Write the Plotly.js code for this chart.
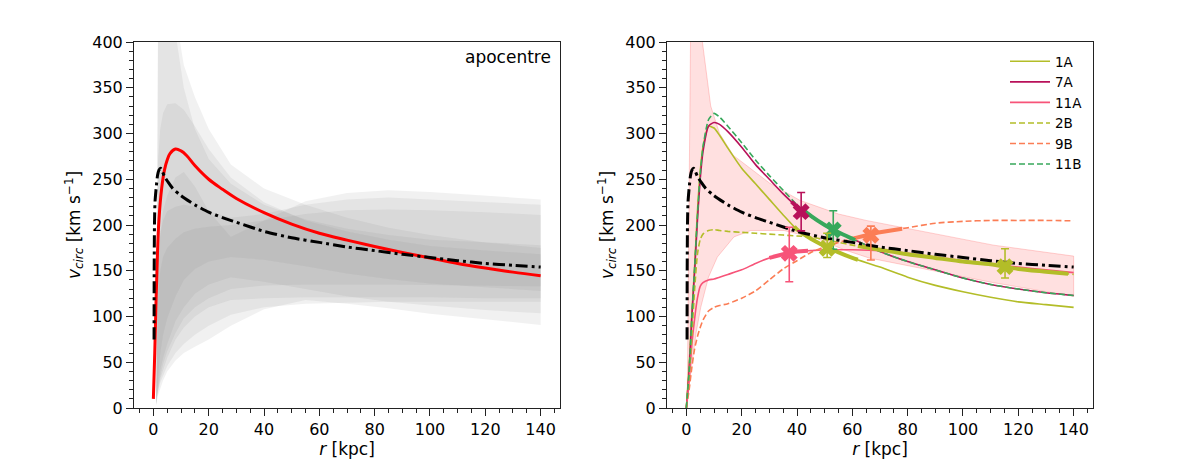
<!DOCTYPE html>
<html>
<head>
<meta charset="utf-8">
<script src="https://cdn.plot.ly/plotly-3.0.1.min.js"></script>
<style>html,body{margin:0;padding:0;background:#fff;}#plot{width:1196px;height:461px;}</style>
</head>
<body>
<div id="plot"></div>
<script>
// ---------- DATA ----------
// Left panel: grey uncertainty bands (upper / lower edges on a common radius grid)
const bandR = [1.0, 1.3, 1.7, 2.5, 3.5, 5, 8, 11, 15, 20, 28, 40, 55, 70, 85, 100, 120, 140];
const bandB1Up = [5, 250, 430, 520, 560, 540, 430, 375, 340, 305, 266, 240, 222, 208, 197, 189, 181, 175];
const bandB1Lo = [3, 8, 14, 22, 30, 40, 52, 60, 67, 75, 90, 108, 118, 114, 109, 103, 97, 90.7];
const bandB2Up = [5, 150, 270, 305, 322, 332, 333, 326, 308, 283, 252, 225, 205, 193, 184, 177, 172, 168];
const bandB2Lo = [4, 20, 35, 60, 80, 98, 122, 140, 152, 160, 165, 162, 155, 147, 141, 136, 132, 128];
const bandB3Up = [5, 240, 420, 500, 520, 500, 410, 350, 305, 272, 245, 222, 206, 196, 189, 184, 181, 178];
const bandB3Lo = [4, 14, 25, 42, 55, 70, 95, 110, 125, 135, 143, 138, 130, 122, 116, 112, 107, 103.5];
const bandR1Up = [5, 80, 150, 190, 215, 232, 252, 258, 242, 215, 187, 205, 226, 235, 238, 236, 232, 228];
const bandR1Lo = [4, 12, 22, 35, 48, 62, 82, 98, 110, 120, 130, 134, 135, 135, 135, 135, 134, 133];
const bandR2Up = [5, 60, 120, 150, 165, 175, 185, 192, 196, 198, 200, 205, 212, 216, 217, 216, 214, 211];
const bandR2Lo = [3, 10, 18, 28, 36, 46, 60, 70, 80, 90, 102, 110, 114, 115, 116, 116, 116, 116];
const bandR3Up = [5, 90, 160, 190, 205, 215, 220, 222, 220, 215, 208, 212, 222, 228, 230, 228, 225, 222];
const bandR3Lo = [4, 12, 20, 32, 42, 55, 75, 88, 100, 110, 118, 120, 121, 121, 121, 121, 120, 120];

// Left panel: red curve
const redR = [0, 0.5, 1, 1.5, 2, 3, 4, 5, 6, 8, 10, 12, 15, 20, 25, 30, 40, 50, 60, 70, 80, 90, 100, 110, 120, 130, 140];
const redV = [10, 60, 120, 170, 205, 240, 260, 271, 278, 283, 281, 276, 265, 250, 239, 229, 213.5, 201, 191, 183.5, 176.5, 170, 164, 158, 153, 148.5, 144.5];

// Both panels: black dash-dot reference curve
const blackR = [0.25, 0.3, 0.4, 0.6, 1, 1.5, 2, 2.6, 3.2, 4, 5.3, 7, 10, 15, 20, 25, 30, 40, 50, 60, 70, 80, 90, 100, 110, 120, 130, 140];
const blackV = [75, 150, 200, 225, 240, 254, 260, 262, 259, 253, 247, 240, 232, 222, 214, 208, 203, 193, 186, 181, 176, 172, 168, 164.5, 161, 158, 156, 154];

// Right panel: pink band
const pinkUpR = [0.3, 0.8, 1.5, 3, 5.8, 8.8, 12, 17, 23, 30, 41, 55, 65, 90, 111, 140];
const pinkUpV = [5, 200, 400, 600, 400, 330, 300, 276, 262, 246, 227, 212, 205, 190, 178, 166];
const pinkLoR = [0.3, 1, 2, 3.5, 5.2, 8, 11.2, 17.2, 23.3, 35.3, 47.4, 57, 66, 88, 111, 140];
const pinkLoV = [3, 25, 50, 82, 110, 143, 165, 187, 194, 194, 185, 173, 164, 151, 137, 122];

// Right panel: model curves
const curveR = [0, 1, 2, 3, 4, 5, 6, 8, 10, 12, 15, 20, 25, 30, 35, 40, 45, 50, 55, 60, 70, 80, 90, 100, 110, 120, 130, 140];
const v1A  = [0, 45, 105, 155, 215, 258, 285, 308, 306, 298, 284, 262, 245, 228, 211, 195, 185, 177, 170, 164, 154, 143, 134, 127, 121, 116, 113, 110];
const v7A  = [0, 40, 100, 150, 205, 250, 280, 308, 312, 310, 302, 285, 266, 250, 234, 220, 209, 200, 192, 185, 171, 160, 151, 142, 135, 130, 126, 123];
const v11A = [0, 30, 70, 98, 120, 133, 137, 140, 141, 143, 146, 151, 158, 164, 168, 171, 172, 173, 173, 173, 172, 169, 165, 161, 157, 154, 151, 148];
const v2B  = [0, 35, 80, 130, 168, 184, 190, 194, 195, 194, 193, 192, 191, 190, 189, 188, 187, 184, 181, 178, 173, 168, 164, 160, 157, 152, 149, 146];
const v9B  = [0, 20, 45, 65, 78, 88, 96, 106, 110, 112, 114, 120, 128, 140, 152, 161, 170, 176, 181, 185, 192, 197, 202, 204, 205, 205, 205, 204.5];
const v11B = [0, 40, 100, 155, 210, 255, 285, 315, 322, 318, 308, 290, 271, 254, 238, 222, 210, 200, 192, 185, 171, 160, 151, 142, 135, 130, 126, 123];

// Orbit segments (start, end radius) drawn thick on each curve
const seg1A = [39, 62];
const seg7A = [38, 42];
const seg11A = [30, 44];
const seg2B = [62, 138];
const seg9B = [60, 78];
const seg11B = [42, 61];

// Markers with asymmetric errors: r, v, +err, -err
const markNames = ['7A', '11B', '9B', '11A', '1A', '2B'];
const markR = [41.5, 53.1, 66.7, 37.2, 50.9, 115.2];
const markV = [214.6, 194.5, 188.8, 169, 174.5, 154.5];
const markErrUp = [21, 21, 10, 28.5, 16.5, 19.5];
const markErrDn = [21, 21, 27, 31, 10, 12.5];

const legendNames = ['1A', '7A', '11A', '2B', '9B', '11B'];

// ---------- STYLE ----------
const C1A = '#b3bd28', C7A = '#b8115a', C11A = '#f75479', C9B = '#fb7d55', C11B = '#37a85b';
const FONT = 'DejaVu Sans, Liberation Sans, sans-serif';

function poly(xU, yU, xL, yL) {
  return {x: xU.concat(xL.slice().reverse()), y: yU.concat(yL.slice().reverse())};
}
function interp(xs, ys, x) {
  for (let i = 0; i < xs.length - 1; i++) {
    if (x >= xs[i] && x <= xs[i + 1]) {
      const t = (x - xs[i]) / (xs[i + 1] - xs[i]);
      return ys[i] + t * (ys[i + 1] - ys[i]);
    }
  }
  return ys[ys.length - 1];
}
function segment(xs, ys, rng) {
  const sx = [rng[0]], sy = [interp(xs, ys, rng[0])];
  for (let i = 0; i < xs.length; i++) {
    if (xs[i] > rng[0] && xs[i] < rng[1]) { sx.push(xs[i]); sy.push(ys[i]); }
  }
  sx.push(rng[1]); sy.push(interp(xs, ys, rng[1]));
  return {x: sx, y: sy};
}

const traces = [];
// grey bands
const bands = [
  [bandB1Up, bandB1Lo], [bandB2Up, bandB2Lo], [bandB3Up, bandB3Lo],
  [bandR1Up, bandR1Lo], [bandR2Up, bandR2Lo], [bandR3Up, bandR3Lo]
];
bands.forEach(b => {
  const p = poly(bandR, b[0], bandR, b[1]);
  traces.push({x: p.x, y: p.y, xaxis: 'x', yaxis: 'y', type: 'scatter', mode: 'lines',
    fill: 'toself', fillcolor: 'rgba(128,128,128,0.11)', line: {width: 0},
    hoverinfo: 'skip', showlegend: false});
});
traces.push({x: redR, y: redV, xaxis: 'x', yaxis: 'y', mode: 'lines', line: {color: '#ff0000', width: 3, shape: 'spline', smoothing: 1}, showlegend: false});
traces.push({x: blackR, y: blackV, xaxis: 'x', yaxis: 'y', mode: 'lines', line: {color: '#000', width: 3, dash: '12px,4px,3px,4px', shape: 'spline', smoothing: 0.6}, showlegend: false});

// right panel
const pp = poly(pinkUpR, pinkUpV, pinkLoR, pinkLoV);
traces.push({x: pp.x, y: pp.y, xaxis: 'x2', yaxis: 'y2', mode: 'lines', fill: 'toself',
  fillcolor: 'rgba(255,0,0,0.12)', line: {color: 'rgba(255,80,80,0.25)', width: 1}, showlegend: false});

const curves = [
  {name: '1A', v: v1A, c: C1A, dash: 'solid', seg: seg1A},
  {name: '7A', v: v7A, c: C7A, dash: 'solid', seg: seg7A},
  {name: '11A', v: v11A, c: C11A, dash: 'solid', seg: seg11A},
  {name: '2B', v: v2B, c: C1A, dash: '6px,3px', seg: seg2B},
  {name: '9B', v: v9B, c: C9B, dash: '6px,3px', seg: seg9B},
  {name: '11B', v: v11B, c: C11B, dash: '6px,3px', seg: seg11B}
];
curves.forEach(cv => {
  traces.push({x: curveR, y: cv.v, xaxis: 'x2', yaxis: 'y2', mode: 'lines', name: cv.name,
    line: {color: cv.c, width: 1.6, dash: cv.dash, shape: 'spline', smoothing: 0.6}, showlegend: legendNames.includes(cv.name)});
});
curves.forEach(cv => {
  const s = segment(curveR, cv.v, cv.seg);
  traces.push({x: s.x, y: s.y, xaxis: 'x2', yaxis: 'y2', mode: 'lines',
    line: {color: cv.c, width: 4, shape: 'spline', smoothing: 0.6}, showlegend: false});
});
traces.push({x: blackR, y: blackV, xaxis: 'x2', yaxis: 'y2', mode: 'lines', line: {color: '#000', width: 3, dash: '12px,4px,3px,4px', shape: 'spline', smoothing: 0.6}, showlegend: false});

const markColors = {'7A': C7A, '11B': C11B, '9B': C9B, '11A': C11A, '1A': C1A, '2B': C1A};
markNames.forEach((n, i) => {
  traces.push({x: [markR[i]], y: [markV[i]], xaxis: 'x2', yaxis: 'y2', mode: 'markers',
    marker: {symbol: 'x', size: 15, color: markColors[n], line: {width: 0}},
    error_y: {type: 'data', symmetric: false, array: [markErrUp[i]], arrayminus: [markErrDn[i]],
      color: markColors[n], thickness: 1.6, width: 4},
    showlegend: false});
});

function axis(extra) {
  return Object.assign({
    showgrid: false, zeroline: false, showline: true, mirror: true, linecolor: '#222', linewidth: 1,
    ticks: 'outside', ticklen: 7, tickwidth: 1, tickcolor: '#222',
    tickfont: {family: FONT, size: 16, color: '#000'}, automargin: false
  }, extra);
}
const xCommon = {range: [-7, 147], tick0: 0, dtick: 20,
  minor: {dtick: 5, tick0: 0, ticks: 'outside', ticklen: 4, tickcolor: '#222', tickwidth: 1, showgrid: false},
  title: {text: '<i>r</i> [kpc]', font: {family: FONT, size: 17, color: '#000'}, standoff: 4}};
const yCommon = {range: [0, 400], tick0: 0, dtick: 50,
  minor: {dtick: 10, tick0: 0, ticks: 'outside', ticklen: 4, tickcolor: '#222', tickwidth: 1, showgrid: false},
  title: {text: '<i>v</i><sub><i>circ</i></sub> [km s<sup>−1</sup>]', font: {family: FONT, size: 17, color: '#000'}, standoff: 7}};

const yDom = [1 - 408 / 461, 1 - 42 / 461];
const layout = {
  width: 1196, height: 461,
  margin: {l: 0, r: 0, t: 0, b: 0},
  paper_bgcolor: '#fff', plot_bgcolor: '#fff',
  font: {family: FONT, color: '#000'},
  xaxis: axis(Object.assign({domain: [134 / 1196, 560 / 1196], anchor: 'y'}, xCommon)),
  yaxis: axis(Object.assign({domain: yDom, anchor: 'x'}, yCommon)),
  xaxis2: axis(Object.assign({domain: [667 / 1196, 1093 / 1196], anchor: 'y2'}, xCommon)),
  yaxis2: axis(Object.assign({domain: yDom, anchor: 'x2'}, yCommon)),
  showlegend: true,
  legend: {x: 1005 / 1196, y: 1 - 46 / 461, xanchor: 'left', yanchor: 'top', bgcolor: 'rgba(0,0,0,0)',
    borderwidth: 0, font: {family: FONT, size: 13.5, color: '#000'}, tracegroupgap: 0, itemwidth: 40},
  annotations: [{text: 'apocentre', xref: 'x domain', yref: 'y domain', x: 0.984, y: 0.959,
    xanchor: 'right', yanchor: 'middle', showarrow: false, font: {family: FONT, size: 17, color: '#000'}}]
};
Plotly.newPlot('plot', traces, layout, {staticPlot: true, displayModeBar: false});
</script>
</body>
</html>
